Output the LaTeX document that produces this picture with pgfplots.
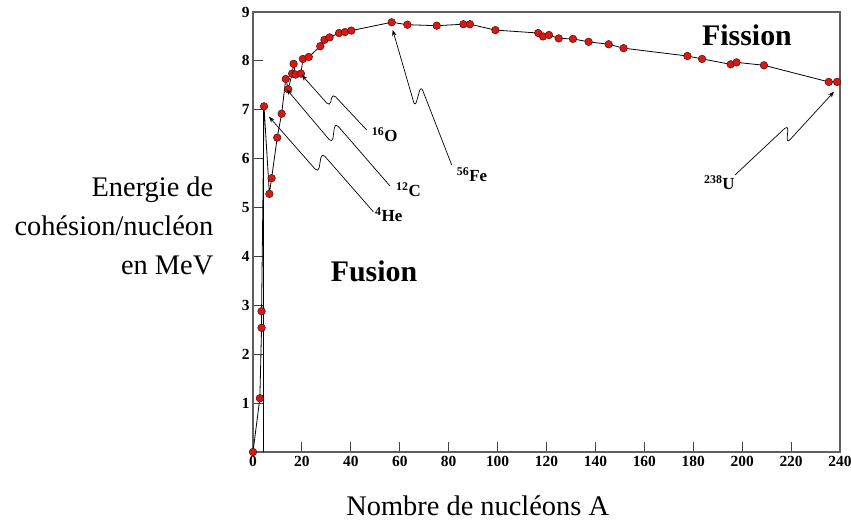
\documentclass[border=0pt]{standalone}
\usepackage{fontspec}
\setmainfont{Liberation Serif}
\usepackage{pgfplots}
\pgfplotsset{compat=1.18}
\usetikzlibrary{arrows.meta}
\definecolor{dotred}{RGB}{215,25,20}
\definecolor{dotedge}{RGB}{80,10,10}
\definecolor{axgray}{RGB}{95,95,95}

\begin{document}
\begin{tikzpicture}[x=1bp,y=1bp]
\useasboundingbox (0,0) rectangle (851,522);
\begin{axis}[
  at={(253bp,70bp)}, anchor=south west,
  scale only axis, width=587bp, height=440bp,
  xmin=0, xmax=240, ymin=0, ymax=9,
  xtick={0,20,...,240}, ytick={1,...,9},
  tick align=inside, major tick length=10bp,
  xtick pos=bottom, ytick pos=left,
  axis line style={axgray, line width=1.2bp},
  tick style={black!75, line width=1bp},
  /pgf/number format/assume math mode=true,
  ticklabel style={font=\fontsize{15.5}{15.5}\selectfont\bfseries},
  xticklabel style={yshift=-1bp},
  clip=false,
]
\addplot[black, line width=0.8bp] coordinates {(4.2,0) (4.2,7.07)};
\addplot[black, line width=0.8bp, mark=*, mark size=3.8bp,
  mark options={fill=dotred, draw=dotedge, line width=0.5bp}] coordinates {
(0,0) (2.8,1.10) (3.5,2.54) (3.5,2.88) (4.5,7.07) (6.7,5.28) (7.6,5.60)
(9.9,6.43) (11.7,6.92) (13.4,7.63) (14.4,7.42) (16.0,7.74) (16.6,7.94)
(17.4,7.72) (19.6,7.74) (20.4,8.04) (22.8,8.08) (27.5,8.30) (29.2,8.43)
(31.3,8.48) (35.2,8.57) (37.6,8.59) (40.2,8.62) (56.7,8.79) (63.1,8.74)
(75.1,8.72) (86.0,8.75) (88.7,8.75) (99.1,8.63) (116.6,8.57) (118.6,8.50)
(121.0,8.53) (125.0,8.46) (130.8,8.45) (137.2,8.39) (145.4,8.34) (151.5,8.26)
(177.6,8.10) (183.6,8.04) (195.3,7.93) (197.7,7.97) (208.9,7.91)
(235.4,7.57) (238.8,7.57)};
\end{axis}

% annotation arrows
\begin{scope}[line width=0.7bp, rounded corners=5bp, -{Stealth[length=6bp,width=4.5bp]}]
\draw (373.3,310.3) -- (321.7,369.3) -- (318.3,349.3) -- (269,405.3);
\draw (390,336) -- (335,399.3) -- (332.3,378.7) -- (286.7,432.7);
\draw (366.7,392) -- (332.3,428.7) -- (330,415.3) -- (301.7,447);
\draw (451.7,357) -- (421,436) -- (415,415.3) -- (392.7,492);
\draw (735,347) -- (788.3,397) -- (786.7,378.7) -- (834,430.3);
\end{scope}

\begin{scope}[every node/.style={anchor=base west, inner sep=0, font=\fontsize{17}{17}\selectfont\bfseries}]
\node at (375,300.3) {\textsuperscript{4}He};
\node at (396,325.3) {\textsuperscript{12}C};
\node at (371.7,380.3) {\textsuperscript{16}O};
\node at (456.7,340.3) {\textsuperscript{56}Fe};
\node at (704,332) {\textsuperscript{238}U};
\end{scope}

\node[font=\fontsize{30}{30}\selectfont\bfseries] at (374,251) {Fusion};
\node[font=\fontsize{30}{30}\selectfont\bfseries] at (747,487) {Fission};

\begin{scope}[every node/.style={anchor=base east, inner sep=0, font=\fontsize{28.5}{39}\selectfont}]
\node at (213.5,325.3) {Energie de};
\node at (213.5,286) {cohésion/nucléon};
\node at (213.5,247) {en MeV};
\end{scope}
\node[anchor=base, inner sep=0, font=\fontsize{28.5}{39}\selectfont] at (477.7,6.5) {Nombre de nucléons A};
\end{tikzpicture}
\end{document}
